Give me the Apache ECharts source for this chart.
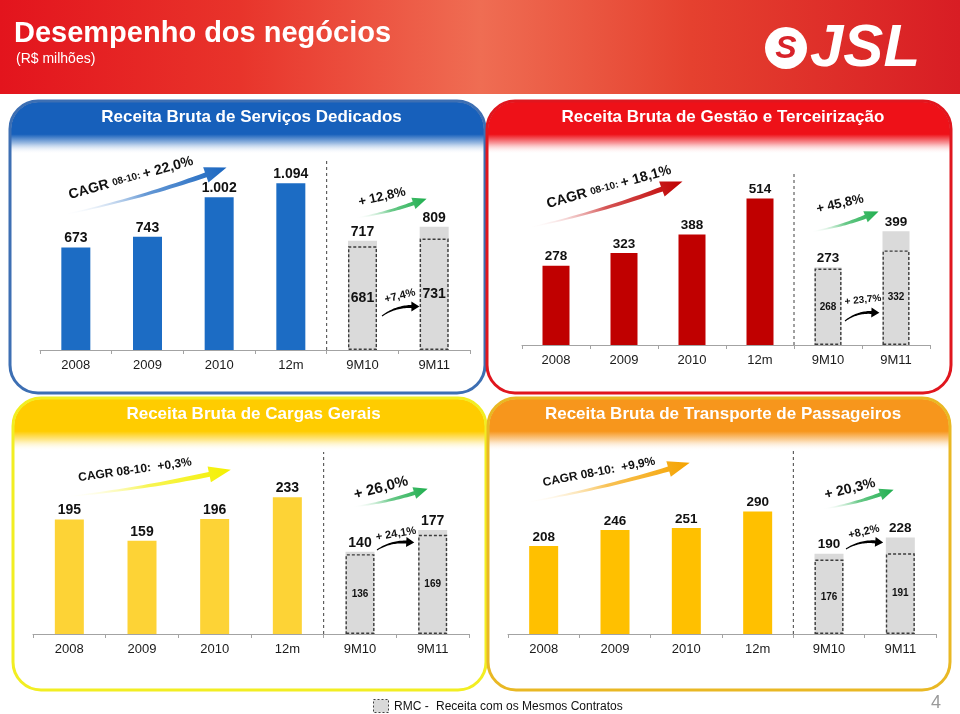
<!DOCTYPE html>
<html><head><meta charset="utf-8">
<script src="https://cdn.jsdelivr.net/npm/echarts@6/dist/echarts.min.js"></script>
<style>html,body{margin:0;padding:0;background:#fff}#c{width:960px;height:714px}</style>
</head><body><div id="c"></div>
<script>
// ---------- DATA ----------
const categories = ['2008', '2009', '2010', '12m', '9M10', '9M11'];
const dedicadosAnual = [673, 743, 1002, 1094];
const dedicadosTotal9M = [717, 809];
const dedicadosRMC9M = [681, 731];
const gestaoAnual = [278, 323, 388, 514];
const gestaoTotal9M = [273, 399];
const gestaoRMC9M = [268, 332];
const cargasAnual = [195, 159, 196, 233];
const cargasTotal9M = [140, 177];
const cargasRMC9M = [136, 169];
const passageirosAnual = [208, 246, 251, 290];
const passageirosTotal9M = [190, 228];
const passageirosRMC9M = [176, 191];
const cagrLabels = ['+ 22,0%', '+ 18,1%', '+0,3%', '+9,9%'];
const growth9MLabels = ['+ 12,8%', '+ 45,8%', '+ 26,0%', '+ 20,3%'];
const growthRMCLabels = ['+7,4%', '+ 23,7%', '+ 24,1%', '+8,2%'];
const panelTitles = ['Receita Bruta de Serviços Dedicados', 'Receita Bruta de Gestão e Terceirização',
  'Receita Bruta de Cargas Gerais', 'Receita Bruta de Transporte de Passageiros'];
const firstPeriodIndex = categories.indexOf('9M10'); // separator sits before this category

// ---------- LAYOUT / STYLE ----------
const FONT = '"Liberation Sans", Arial, sans-serif';
const panels = [
  {x: 10, y: 101, w: 475, h: 292, head: '#1760bb', line: '#3d6fb3', bar: '#1c6cc4', cagr: '#1a66c0'},
  {x: 487, y: 101, w: 464, h: 292, head: '#ee1118', line: '#e0161e', bar: '#c00000', cagr: '#c00000'},
  {x: 13, y: 398, w: 473, h: 292, head: '#ffcc00', line: '#f2ee22', bar: '#fdd336', cagr: '#f4f000'},
  {x: 488, y: 398, w: 462, h: 292, head: '#f7961c', line: '#e9b824', bar: '#ffc000', cagr: '#f5a300'}
];
const grids = [
  {left: 40, top: 158, width: 430, height: 192},
  {left: 522, top: 174, width: 408, height: 171},
  {left: 33, top: 452, width: 436, height: 182},
  {left: 508, top: 448, width: 428, height: 186}
];
const yMax = [1260, 600, 310, 440];
const barW = [29, 27, 29, 29];
const mainFs = [14, 13.5, 14, 13.5];
const innerFs = [14, 10, 10, 10];

const dataSets = [
  [dedicadosAnual, dedicadosTotal9M, dedicadosRMC9M],
  [gestaoAnual, gestaoTotal9M, gestaoRMC9M],
  [cargasAnual, cargasTotal9M, cargasRMC9M],
  [passageirosAnual, passageirosTotal9M, passageirosRMC9M]
];

function fmt(v) { return String(v).replace(/\B(?=(\d{3})+(?!\d))/g, '.'); }

const xAxes = [], yAxes = [], series = [];
grids.forEach((g, i) => {
  xAxes.push({
    type: 'category', gridIndex: i, data: categories,
    axisLine: {lineStyle: {color: '#a3a3a3', width: 1}},
    axisTick: {show: true, length: 4, lineStyle: {color: '#a3a3a3'}},
    axisLabel: {color: '#1a1a1a', fontSize: 13, fontFamily: FONT, margin: 9},
    splitLine: {show: false}
  });
  yAxes.push({type: 'value', gridIndex: i, min: 0, max: yMax[i], show: false, splitLine: {show: false}});
  const [annual, total, rmc] = dataSets[i];
  const pad = ['-', '-', '-', '-'];
  const common = {type: 'bar', xAxisIndex: i, yAxisIndex: i, barWidth: barW[i], barGap: '-100%', silent: true, animation: false};
  series.push(Object.assign({}, common, {
    data: annual.concat(['-', '-']), itemStyle: {color: panels[i].bar}, z: 2,
    label: {show: true, position: 'top', distance: 2, formatter: p => fmt(p.value), fontSize: mainFs[i], fontWeight: 'bold', color: '#111', fontFamily: FONT}
  }));
  series.push(Object.assign({}, common, {
    data: pad.concat(total), itemStyle: {color: '#dadada'}, z: 2,
    label: {show: true, position: 'top', distance: 2, formatter: p => fmt(p.value), fontSize: mainFs[i], fontWeight: 'bold', color: '#111', fontFamily: FONT}
  }));
  series.push(Object.assign({}, common, {
    data: pad.concat(rmc), z: 3,
    itemStyle: {color: 'rgba(0,0,0,0)', borderColor: '#3c3c3c', borderWidth: 1.4, borderType: [3, 2]},
    label: {show: true, position: 'inside', formatter: p => fmt(p.value), fontSize: innerFs[i], fontWeight: 'bold', color: '#111', fontFamily: FONT}
  }));
});
// hidden value x-axes spanning the category bands, used for the dashed separator
grids.forEach((g, i) => {
  xAxes.push({type: 'value', gridIndex: i, min: 0, max: categories.length, show: false, splitLine: {show: false}});
  series.push({
    type: 'line', xAxisIndex: grids.length + i, yAxisIndex: i, silent: true, animation: false, z: 1,
    symbol: 'none', data: [[firstPeriodIndex, 0], [firstPeriodIndex, yMax[i]]],
    lineStyle: {type: [3, 3], color: '#404040', width: 1}
  });
});

// ---------- ANNOTATION HELPERS ----------
function arrowPts(x1, y1, x2, y2, w0, w1, hl, hw, bend) {
  const dx = x2 - x1, dy = y2 - y1, L = Math.hypot(dx, dy);
  const ux = dx / L, uy = dy / L, nx = uy, ny = -ux;
  const bx = x2 - ux * hl, by = y2 - uy * hl;
  const cx = (x1 + bx) / 2 + nx * bend, cy = (y1 + by) / 2 + ny * bend;
  const N = 24, left = [], right = [];
  let tx = ux, ty = uy;
  for (let k = 0; k <= N; k++) {
    const t = k / N;
    const px = (1 - t) * (1 - t) * x1 + 2 * (1 - t) * t * cx + t * t * bx;
    const py = (1 - t) * (1 - t) * y1 + 2 * (1 - t) * t * cy + t * t * by;
    let ddx = 2 * (1 - t) * (cx - x1) + 2 * t * (bx - cx);
    let ddy = 2 * (1 - t) * (cy - y1) + 2 * t * (by - cy);
    const l = Math.hypot(ddx, ddy); ddx /= l; ddy /= l;
    const w = (w0 + (w1 - w0) * t) / 2;
    left.push([px + ddy * w, py - ddx * w]);
    right.push([px - ddy * w, py + ddx * w]);
    tx = ddx; ty = ddy;
  }
  const tip = [bx + tx * hl, by + ty * hl];
  return left.concat([[bx + ty * hw, by - tx * hw], tip, [bx - ty * hw, by + tx * hw]]).concat(right.reverse());
}
function arrow(x1, y1, x2, y2, w0, w1, hl, hw, bend, c0, c1) {
  return {
    type: 'polygon', z: 20, silent: true,
    shape: {points: arrowPts(x1, y1, x2, y2, w0, w1, hl, hw, bend)},
    style: {fill: c0 === c1 ? c1 : {type: 'linear', x: x1, y: y1, x2: x2, y2: y2, global: true,
      colorStops: [{offset: 0, color: c0}, {offset: 0.5, color: c1 + 'aa'}, {offset: 1, color: c1}]}}
  };
}
function rtext(x, y, deg, style) {
  return {type: 'text', z: 21, silent: true, x: x, y: y, rotation: deg * Math.PI / 180,
    style: Object.assign({textAlign: 'center', textVerticalAlign: 'middle', fill: '#111'}, style)};
}

// ---------- GRAPHICS ----------
const g = [];
// top banner
g.push({type: 'rect', z: -20, silent: true, shape: {x: 0, y: 0, width: 960, height: 94},
  style: {fill: {type: 'linear', x: 0, y: 0, x2: 1, y2: 0, colorStops: [
    {offset: 0, color: '#e3141d'}, {offset: 0.25, color: '#e8342b'}, {offset: 0.5, color: '#ef6d53'},
    {offset: 0.72, color: '#e5412f'}, {offset: 1, color: '#d81d24'}]}}});
g.push({type: 'text', z: 5, silent: true, x: 14, y: 34, style: {text: 'Desempenho dos negócios', fill: '#fff', font: 'bold 29px ' + FONT, textVerticalAlign: 'middle'}});
g.push({type: 'text', z: 5, silent: true, x: 16, y: 59, style: {text: '(R$ milhões)', fill: '#fff', font: '14px ' + FONT, textVerticalAlign: 'middle'}});
// logo
g.push({type: 'circle', z: 5, silent: true, shape: {cx: 786, cy: 48, r: 21}, style: {fill: '#fff'}});
g.push({type: 'text', z: 6, silent: true, x: 786, y: 49, style: {text: 'S', fill: '#d8232a', font: 'italic 900 32px ' + FONT, textAlign: 'center', textVerticalAlign: 'middle'}});
g.push({type: 'text', z: 5, silent: true, x: 810, y: 49, style: {text: 'JSL', fill: '#fff', font: 'italic 900 60px ' + FONT, textVerticalAlign: 'middle'}});

// panels
panels.forEach((p, i) => {
  g.push({type: 'rect', z: -10, silent: true, shape: {x: p.x, y: p.y, width: p.w, height: p.h, r: 28}, style: {fill: '#fff'}});
  g.push({type: 'rect', z: -9, silent: true, shape: {x: p.x + 1, y: p.y + 1, width: p.w - 2, height: 52, r: [27, 27, 0, 0]},
    style: {fill: {type: 'linear', x: 0, y: 0, x2: 0, y2: 1, colorStops: [
      {offset: 0, color: p.head}, {offset: 0.62, color: p.head}, {offset: 0.8, color: p.head + '66'}, {offset: 1, color: 'rgba(255,255,255,0)'}]}}});
  g.push({type: 'rect', z: -8, silent: true, shape: {x: p.x, y: p.y, width: p.w, height: p.h, r: 28},
    style: {fill: 'rgba(0,0,0,0)', stroke: p.line, lineWidth: 3}});
  g.push({type: 'text', z: 5, silent: true, x: p.x + p.w / 2 + 4, y: p.y + 16,
    style: {text: panelTitles[i], fill: '#fff', font: 'bold 17px ' + FONT, textAlign: 'center', textVerticalAlign: 'middle'}});
});

const green = '#1fae4e';
// CAGR arrows and labels
const cagrArrows = [
  [62, 215, 227, 169, 0.8, 5, 22, 8, -5],
  [527, 228, 683, 183, 0.8, 5, 22, 8, -5],
  [63, 497, 231, 471, 0.8, 5, 22, 8, -4],
  [523, 503, 690, 464, 0.8, 5, 22, 8, -4]
];
cagrArrows.forEach((a, i) => {
  g.push(arrow(a[0], a[1], a[2], a[3], a[4], a[5], a[6], a[7], a[8], 'rgba(255,255,255,0)', panels[i].cagr));
});
const richA = {a: {font: 'bold 14px ' + FONT, fill: '#111'}, b: {font: 'bold 10px ' + FONT, fill: '#111'}};
g.push(rtext(131, 178, 15.5, {text: '{a|CAGR }{b|08-10: }{a|' + cagrLabels[0] + '}', rich: richA}));
g.push(rtext(609, 187, 15.5, {text: '{a|CAGR }{b|08-10: }{a|' + cagrLabels[1] + '}', rich: richA}));
g.push(rtext(135, 470, 8, {text: 'CAGR 08-10:  ' + cagrLabels[2], font: 'bold 12px ' + FONT}));
g.push(rtext(599, 472, 11, {text: 'CAGR 08-10:  ' + cagrLabels[3], font: 'bold 12px ' + FONT}));

// green 9M arrows
const greenArrows = [
  [355, 218, 427, 200], [810, 232, 879, 213], [352, 507, 428, 490], [822, 509, 894, 491]
];
greenArrows.forEach(a => g.push(arrow(a[0], a[1], a[2], a[3], 0.8, 4, 14, 6, -3, 'rgba(255,255,255,0)', green)));
g.push(rtext(382, 197, 13, {text: growth9MLabels[0], font: 'bold 13px ' + FONT}));
g.push(rtext(840, 204, 13, {text: growth9MLabels[1], font: 'bold 13px ' + FONT}));
g.push(rtext(381, 488, 15, {text: growth9MLabels[2], font: 'bold 15px ' + FONT}));
g.push(rtext(850, 489, 14, {text: growth9MLabels[3], font: 'bold 14px ' + FONT}));

// black RMC arrows
const blackArrows = [
  [382, 316, 419, 304], [845, 321, 879, 310], [377, 550, 414, 540], [846, 549, 883, 540]
];
blackArrows.forEach(a => g.push(arrow(a[0], a[1], a[2], a[3], 1, 3, 8, 5, 5, '#000', '#000')));
g.push(rtext(400, 296, 14, {text: growthRMCLabels[0], font: 'bold 11px ' + FONT}));
g.push(rtext(863, 300, 6, {text: growthRMCLabels[1], font: 'bold 10px ' + FONT}));
g.push(rtext(396, 534, 10, {text: growthRMCLabels[2], font: 'bold 11px ' + FONT}));
g.push(rtext(864, 532, 13, {text: growthRMCLabels[3], font: 'bold 11px ' + FONT}));

// footer
g.push({type: 'rect', z: 5, silent: true, shape: {x: 373.5, y: 699.5, width: 15, height: 13},
  style: {fill: '#d9d9d9', stroke: '#404040', lineWidth: 1, lineDash: [2, 2]}});
g.push({type: 'text', z: 5, silent: true, x: 394, y: 707, style: {text: 'RMC -', fill: '#111', font: '12px ' + FONT, textVerticalAlign: 'middle'}});
g.push({type: 'text', z: 5, silent: true, x: 436, y: 707, style: {text: 'Receita com os Mesmos Contratos', fill: '#111', font: '12px ' + FONT, textVerticalAlign: 'middle'}});
g.push({type: 'text', z: 5, silent: true, x: 936, y: 703, style: {text: '4', fill: '#9a9a9a', font: '18px ' + FONT, textAlign: 'center', textVerticalAlign: 'middle'}});

const chart = echarts.init(document.getElementById('c'), null, {renderer: 'canvas'});
chart.setOption({
  backgroundColor: '#fff',
  animation: false,
  grid: grids.map(gr => Object.assign({containLabel: false}, gr)),
  xAxis: xAxes,
  yAxis: yAxes,
  series: series,
  graphic: g
});
</script></body></html>
